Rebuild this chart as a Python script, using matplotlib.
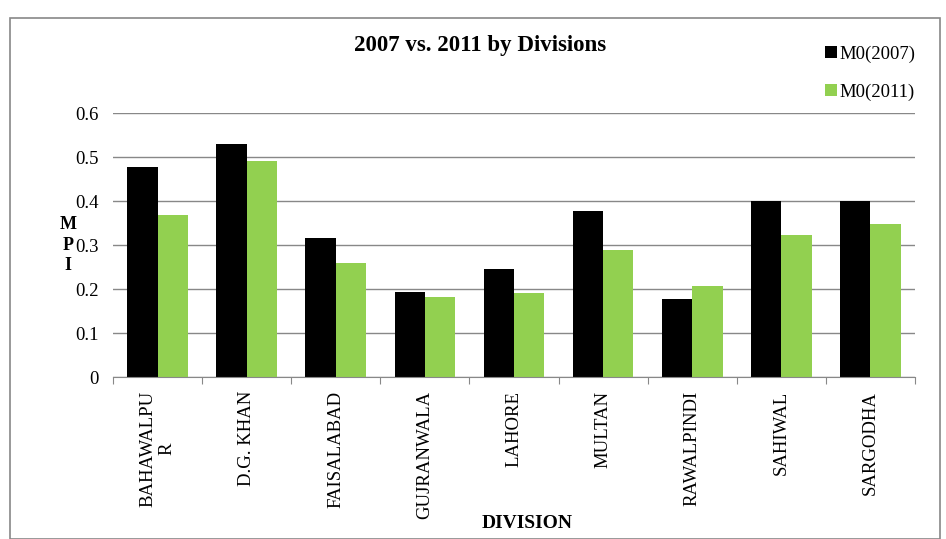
import matplotlib
matplotlib.use("Agg")
import matplotlib.pyplot as plt
import numpy as np
from matplotlib.patches import Rectangle

plt.rcParams['font.family'] = ['Liberation Serif', 'DejaVu Serif']

divisions = ["BAHAWALPU\nR", "D.G. KHAN", "FAISALABAD", "GUJRANWALA", "LAHORE",
             "MULTAN", "RAWALPINDI", "SAHIWAL", "SARGODHA"]
m0_2007 = [0.478, 0.530, 0.316, 0.193, 0.246, 0.378, 0.178, 0.401, 0.401]
m0_2011 = [0.368, 0.490, 0.258, 0.181, 0.192, 0.289, 0.206, 0.322, 0.348]

fig = plt.figure(figsize=(9.46, 5.39), dpi=100)
fig.patches.append(Rectangle((10/946, 0), 930/946, (539-18)/539, transform=fig.transFigure,
                             fill=False, edgecolor='#888888', lw=1.2))
ax = fig.add_axes([113/946, 1-377/539, (915-113)/946, (377-113)/539])
x = np.arange(len(divisions))
w = 0.34
ax.bar(x - w/2, m0_2007, w, color='black', label='M0(2007)')
ax.bar(x + w/2, m0_2011, w, color='#92D050', label='M0(2011)')
ax.set_ylim(0, 0.6)
ax.set_xlim(-0.5, len(divisions) - 0.5)
ax.set_yticks(np.arange(0, 0.61, 0.1))
ax.set_yticklabels(['0', '0.1', '0.2', '0.3', '0.4', '0.5', '0.6'], fontsize=13.5)
ax.yaxis.grid(True, color='#888888', lw=1)
ax.set_axisbelow(True)
for s in ['top', 'right', 'left']:
    ax.spines[s].set_visible(False)
ax.spines['bottom'].set_color('#888888')
ax.tick_params(axis='y', length=0, pad=10)
ax.tick_params(axis='x', length=5, color='#888888')
ax.set_xticks(np.arange(-0.5, len(divisions), 1), minor=False)
ax.set_xticklabels([])
ax.set_xticks(x, minor=True)
ax.set_xticklabels(divisions, minor=True, rotation=90, fontsize=13.5, va='top', ha='center', multialignment='center')
ax.tick_params(axis='x', which='minor', length=0, pad=10)
fig.text(68/946, 1-245/539, "M\nP\nI", ha='center', va='center', fontsize=13, fontweight='bold', linespacing=1.25)
fig.text(527/946, 1-524/539, "DIVISION", ha='center', va='center', fontsize=14, fontweight='bold')
fig.text(480/946, 1-46/539, "2007 vs. 2011 by Divisions", ha='center', va='center', fontsize=16.5, fontweight='bold')
ax.legend(loc='upper left', bbox_to_anchor=(816/946, 1-36/539), bbox_transform=fig.transFigure,
          frameon=False, fontsize=13.5, handlelength=0.6, handleheight=0.6, handletextpad=0.15,
          labelspacing=1.1, borderpad=0)
fig.savefig("out.png", dpi=100)
